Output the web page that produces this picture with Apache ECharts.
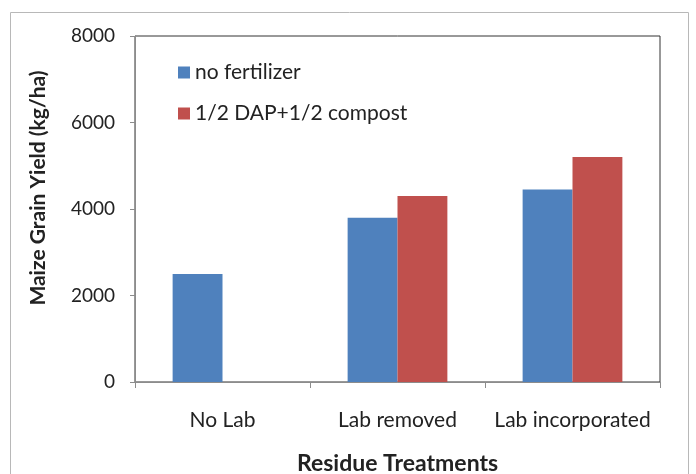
<!DOCTYPE html>
<html>
<head>
<meta charset="utf-8">
<script src="https://cdn.jsdelivr.net/npm/echarts@6/dist/echarts.min.js"></script>
<style>
  html, body { margin: 0; padding: 0; background: #fff; }
  #chart { width: 696px; height: 474px; }
</style>
</head>
<body>
<div id="chart"></div>
<script>
  const categories = ['No Lab', 'Lab removed', 'Lab incorporated']
  const noFertilizer = [2500, 3800, 4450]
  const dapCompost = [0, 4300, 5200]
  const yTicks = { min: 0, max: 8000, interval: 2000 }

  const font = 'Lato, "Open Sans", sans-serif'
  let chart = echarts.init(document.getElementById('chart'))
  chart.setOption({
    animation: false,
    textStyle: { fontFamily: font },
    graphic: [
      {
        type: 'rect',
        shape: { x: 10.5, y: 12.5, width: 678, height: 480 },
        style: { fill: 'none', stroke: '#b8b8b8', lineWidth: 1 },
        z: -10,
      },
      {
        type: 'text',
        x: 38,
        y: 188,
        rotation: Math.PI / 2,
        style: {
          text: 'Maize Grain Yield (kg/ha)',
          font: 'bold 21px ' + font,
          fill: '#222',
          align: 'center',
          verticalAlign: 'middle',
        },
      },
    ],
    grid: {
      left: 135,
      right: 36,
      top: 36,
      bottom: 92,
      outerBoundsMode: 'none',
      containLabel: false,
      show: true,
      borderColor: '#333',
      borderWidth: 1,
    },
    legend: {
      orient: 'vertical',
      left: 173,
      top: 57,
      itemWidth: 12,
      itemHeight: 12,
      itemGap: 20,
      icon: 'rect',
      textStyle: { fontSize: 21, color: '#222', fontFamily: font },
      data: ['no fertilizer', '1/2 DAP+1/2 compost'],
    },
    xAxis: {
      type: 'category',
      data: categories,
      axisLine: { lineStyle: { color: '#8c8c8c' } },
      axisTick: { show: true, length: 6, lineStyle: { color: '#8c8c8c' } },
      axisLabel: { fontSize: 21, color: '#222', margin: 28, interval: 0 },
      name: 'Residue Treatments',
      nameLocation: 'middle',
      nameGap: 70,
      nameTextStyle: { fontSize: 23, fontWeight: 'bold', color: '#222' },
    },
    yAxis: {
      type: 'value',
      min: yTicks.min,
      max: yTicks.max,
      interval: yTicks.interval,
      splitLine: { show: false },
      axisLine: { show: true, lineStyle: { color: '#8c8c8c' } },
      axisTick: { show: true, length: 5, lineStyle: { color: '#8c8c8c' } },
      axisLabel: { fontSize: 19, color: '#222', margin: 20, formatter: (v) => String(v) },
    },
    series: [
      {
        name: 'no fertilizer',
        type: 'bar',
        data: noFertilizer,
        barGap: '0%',
        barCategoryGap: '43%',
        itemStyle: { color: '#4f81bd' },
      },
      {
        name: '1/2 DAP+1/2 compost',
        type: 'bar',
        data: dapCompost,
        itemStyle: { color: '#c0504d' },
      },
    ],
  })
</script>
</body>
</html>
